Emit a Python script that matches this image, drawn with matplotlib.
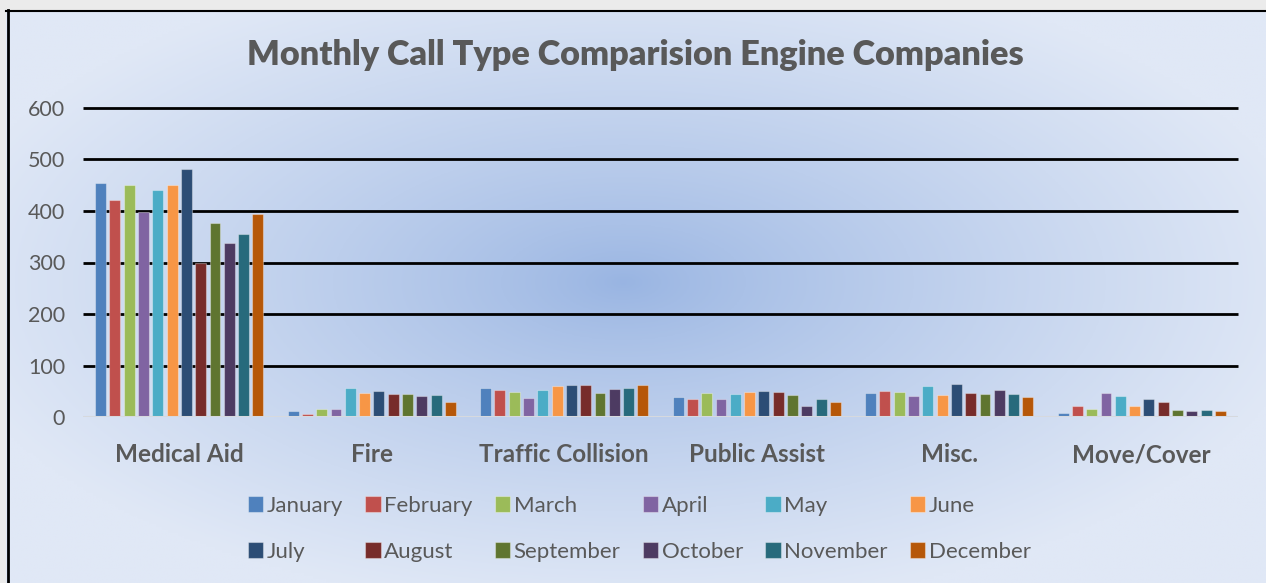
import matplotlib.pyplot as plt
import numpy as np

plt.rcParams['font.family'] = ['Lato', 'DejaVu Sans']

categories = ["Medical Aid", "Fire", "Traffic Collision", "Public Assist", "Misc.", "Move/Cover"]
months = ["January", "February", "March", "April", "May", "June",
          "July", "August", "September", "October", "November", "December"]

# calls per category, one list per month
january = [455, 12, 57, 39, 46, 8]
february = [421, 6, 52, 34, 51, 21]
march = [450, 16, 49, 46, 48, 16]
april = [399, 16, 36, 34, 41, 47]
may = [440, 57, 52, 44, 60, 40]
june = [450, 46, 60, 49, 43, 21]
july = [481, 50, 63, 51, 65, 34]
august = [300, 45, 63, 49, 46, 30]
september = [376, 45, 47, 42, 44, 14]
october = [338, 40, 54, 21, 53, 11]
november = [356, 43, 57, 34, 44, 13]
december = [394, 30, 63, 30, 38, 11]

values = [january, february, march, april, may, june,
          july, august, september, october, november, december]

colors = ["#4F81BD", "#C0504D", "#9BBB59", "#8064A2", "#4BACC6", "#F79646",
          "#2C4D75", "#772C2A", "#5F7530", "#4D3B62", "#276A7C", "#B65708"]

txt = "#595959"

fig = plt.figure(figsize=(12.66, 5.83), dpi=100)
fig.patch.set_facecolor("#ebebeb")

# chart area background: soft radial gradient
bg = fig.add_axes([6 / 1266, 0, 1260 / 1266, 573 / 583])
bg.set_axis_off()
gx, gy = np.meshgrid(np.linspace(-1, 1, 400), np.linspace(-1, 1, 200))
r = np.clip(np.sqrt(((gx + 0.02) / 1.1) ** 2 + ((gy + 0.05) / 1.15) ** 2), 0, 1) ** 0.8
c0 = np.array([0x98, 0xb4, 0xe2]) / 255
c1 = np.array([0xe0, 0xe8, 0xf6]) / 255
img = c0[None, None, :] * (1 - r[..., None]) + c1[None, None, :] * r[..., None]
bg.imshow(img, aspect="auto", extent=[0, 1, 0, 1])
bg.set_xlim(0, 1)
bg.set_ylim(0, 1)
bg.plot([0.0015, 0.0015], [0, 1], color="black", lw=2, clip_on=False)
bg.plot([0, 1], [0.999, 0.999], color="black", lw=1.5, clip_on=False)

ax = fig.add_axes([83 / 1266, 166 / 583, 1155 / 1266, 309 / 583])
ax.patch.set_alpha(0)

n = len(months)
pitch = 0.0743
width = 0.057
x = np.arange(len(categories)) + 0.5
for i, (m, v, c) in enumerate(zip(months, values, colors)):
    ax.bar(x + (i - (n - 1) / 2) * pitch, v, width, color=c, label=m,
           edgecolor=(1, 1, 1, 0.35), linewidth=0.8, zorder=3)

ax.set_xlim(0, len(categories))
ax.set_ylim(0, 600)
yt = np.arange(0, 700, 100)
ax.set_yticks(yt)
ax.set_yticklabels([str(t) for t in yt], fontsize=15.5, color=txt)
ax.hlines(yt[1:], 0, len(categories), color="black", lw=2, zorder=2, clip_on=False)
ax.axhline(0, color="#d6d9de", lw=2.2, zorder=4)
ax.set_xticks(x)
ax.set_xticklabels(categories, fontsize=17.5, fontweight="bold", color=txt)
ax.tick_params(length=0)
ax.tick_params(axis="y", pad=13)
ax.tick_params(axis="x", pad=19)
for s in ax.spines.values():
    s.set_visible(False)

fig.text(0.502, 0.905, "Monthly Call Type Comparision Engine Companies",
         ha="center", va="center", fontsize=24.7, fontweight="heavy", color=txt)

handles, labels = ax.get_legend_handles_labels()
order = [0, 6, 1, 7, 2, 8, 3, 9, 4, 10, 5, 11]
leg = fig.legend([handles[k] for k in order], [labels[k] for k in order],
                 ncol=6, loc="center", bbox_to_anchor=(0.505, 0.093),
                 frameon=False, fontsize=16, labelcolor=txt,
                 handlelength=0.7, handleheight=0.7, handletextpad=0.15,
                 columnspacing=1.0, labelspacing=1.15)

fig.savefig("out.png", dpi=100)
